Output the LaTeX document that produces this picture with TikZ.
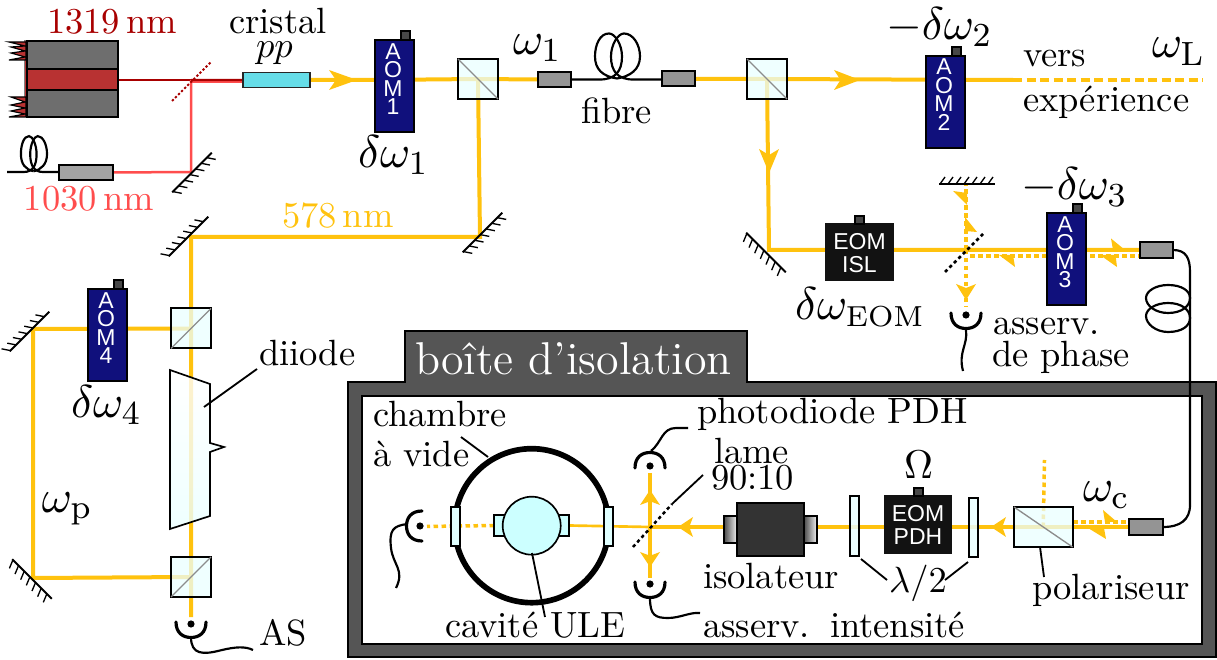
\documentclass[tikz,border=0pt]{standalone}
\usepackage{fontspec}
\usetikzlibrary{backgrounds}
\newfontfamily\sansf{Liberation Sans}
\def\ux{0.3pt}
\definecolor{beamc}{HTML}{FFC20E}
\definecolor{lightred}{HTML}{FF4D4D}
\definecolor{darkred}{HTML}{A80000}
\definecolor{navyaom}{HTML}{10107C}
\definecolor{cubec}{HTML}{EAFFFF}
\definecolor{boxgrey}{HTML}{555555}
\definecolor{stripec}{HTML}{B83232}
\definecolor{crystalc}{HTML}{66DDE8}
\definecolor{cavc}{HTML}{CCFFFF}
\definecolor{winc}{HTML}{E0FFFF}
\tikzset{
  sized/.style 2 args={rectangle,inner sep=0pt,outer sep=0pt,minimum width=#1*\ux,minimum height=#2*\ux},
  thinline/.style={line width=0.6pt,draw=black},
  beam/.style={draw=beamc,line width=1.2pt},
  thinbeam/.style={draw=beamc,line width=0.8pt},
  vbeam/.style={draw=beamc,line width=1.05pt},
  dotbeam/.style={draw=beamc,line width=1.05pt,dash pattern=on 1.35pt off 1.05pt},
  dashbeam/.style={draw=beamc,line width=1.05pt,dash pattern=on 2.7pt off 1.35pt},
  fiber/.style={draw=black,line width=0.65pt},
  leader/.style={draw=black,line width=0.55pt},
  splitter/.style={draw=black,line width=0.75pt,dash pattern=on 1pt off 0.9pt},
  txt/.style={inner sep=0pt,outer sep=0pt,anchor=base west,font=\fontsize{10.95}{13}\selectfont},
  bigmath/.style={txt,scale=1.26},
  modtxt/.style={inner sep=0pt,outer sep=0pt,text=white,align=center,font=\fontsize{6.9}{5.55}\selectfont\sansf},
  collim/.style={thinline,fill=black!42},
  connector/.style={thinline,fill=black!72},
  cube/.style={sized={#1}{#1},draw=black,line width=0.6pt,fill=cubec,fill opacity=0.75},
  plate/.style={draw=black,line width=0.4pt,fill=cubec,fill opacity=0.85},
  window/.style={draw=black,line width=0.4pt,fill=winc},
  modbox/.style={fill=black!93,draw=black!93},
}
\newcommand\mirrorat[6]{% name x y rot ticx ticy
  \coordinate (#1) at (#2,#3);
  \begin{scope}[shift={(#1)},rotate=#4]
    \draw[line width=0.55pt] (-28,0) -- (28,0);
    \foreach \t in {-27,-19,-11,-3,5,13,21}
      \draw[line width=0.4pt] (\t,0) -- ++(#5,#6);
  \end{scope}}
\newcommand\farrow[4]{\fill[beamc,shift={(#1,#2)},rotate=#3] (0,0)--(-#4,-10)--({-0.75*#4},0)--(-#4,10)--cycle;}
\newcommand\aom[4]{% name left top digit
  \node[sized={39}{92},thinline,fill=navyaom,anchor=north west] (#1) at (#2,#3) {};
  \node[sized={9}{9},connector,anchor=south west] (#1c) at ([xshift=26*\ux]#1.north west) {};
  \node[modtxt,anchor=north] (#1t) at ([xshift=-1.5*\ux,yshift=-3*\ux]#1.north) {A\\O\\M\\#4};}
\newcommand\detector[4]{% name x y rot
  \coordinate (#1) at (#2,#3);
  \begin{scope}[shift={(#1)},rotate=#4]
    \fill (0,0) circle[radius=3.6];
    \draw[line width=0.95pt,line cap=round] (-15,-2) .. controls (-15,9) and (-8,13.5) .. (0,13.5) .. controls (8,13.5) and (15,9) .. (15,-2);
  \end{scope}}
\newcommand\fibloop[4]{% fibre with two loops from #1, scaled, total length #4
  \begin{scope}[shift={(#1)},xscale=#2,yscale=#3]
    \draw[fiber] (0,0) -- (29,0) .. controls (44,0) and (51,-8) .. (51,-23) .. controls (51,-35) and (44,-46) .. (38,-46) .. controls (29,-46) and (24,-35) .. (24,-23) .. controls (24,-10) and (32,-3) .. (46,-1);
    \draw[fiber] (#4,0) -- (62,0) .. controls (47,0) and (40,-8) .. (40,-23) .. controls (40,-35) and (47,-46) .. (53,-46) .. controls (62,-46) and (69,-35) .. (69,-23) .. controls (69,-10) and (59,-3) .. (46,-1);
  \end{scope}}
\begin{document}
\begin{tikzpicture}[x=\ux,y=-\ux]
\useasboundingbox (0,0) rectangle (1217,660);

% ---------- anchor points of the optical path
\coordinate (laserout) at (118,80);
\coordinate (splitA) at (191,80);
\coordinate (splitB) at (191,81.5);
\coordinate (crystB) at (243,81.5);
\coordinate (endline) at (1013,80);
\coordinate (endbeam) at (1203,80);
\coordinate (fib0) at (7,172);
\mirrorat{m1}{192}{172.5}{45}{5}{7.5}
\mirrorat{m2}{482.5}{232.5}{45}{5}{7.5}
\mirrorat{m3}{188.5}{236.5}{45}{-5}{-7.5}
\mirrorat{m4}{29.5}{331.5}{45}{-5}{-7.5}
\mirrorat{m5}{32}{579}{-45}{3.5}{8.5}
\mirrorat{m6}{766}{252.5}{-45}{3.5}{8.5}
\mirrorat{m7}{967}{184}{0}{5}{-7}
\coordinate (c1) at (191,172);
\coordinate (c2) at (480,237);
\coordinate (c3) at (191,237);
\coordinate (c4) at (33,329);
\coordinate (c5) at (33,578);
\coordinate (c6) at (769,250);
\coordinate (bsP) at (966,250);
\coordinate (bsL) at (650,527);
\coordinate (c7) at (966,184);
\coordinate (detPend) at (966,307);
\coordinate (retA) at (970,256);
\coordinate (retB) at (1140,256);
\coordinate (detLend) at (427,526.5);
\coordinate (vtop) at (650,473);
\coordinate (vbot) at (650,578);
\coordinate (polup) at (1044.5,460);
\coordinate (polret) at (1073,522);
\coordinate (colret) at (1129,522);
\coordinate (asend) at (191,617);

% isolation box
\begin{pgfonlayer}{background}
  \draw[line width=0.6pt,fill=boxgrey] (348,382) -- (405,382) -- (405,331) -- (747,331) -- (747,382) -- (1216,382) -- (1216,656.5) -- (348,656.5) -- cycle;
  \node[sized={840}{248},fill=white,draw=black,line width=0.6pt,anchor=north west] (inner) at (362,396) {};
\end{pgfonlayer}

% laser 1319
\fill[stripec,draw=black!50,line width=0.3pt] (24.5,41) rectangle (27,117);
\draw[line width=0.35pt,fill=stripec] (26,42)--(9,42)--(25,46)--(11,47)--(25,51)--(11,53)--(25,57)--(9,60)--(26,60)--cycle;
\draw[line width=0.35pt,fill=stripec] (26,97)--(11,97)--(25,102)--(11,105)--(25,108)--(11,111)--(25,114)--(9,117)--(26,117)--cycle;
\node[sized={91}{76},thinline,fill=black!57,anchor=north west] (laser) at (27,41) {};
\node[sized={91}{21},thinline,fill=stripec,anchor=north west] (stripe) at (27,69) {};

% crystal and collimators
\node[sized={67}{15},draw=black!85,line width=0.45pt,fill=crystalc,anchor=north west] (crystal) at (243,72.5) {};
\node[sized={54}{15},collim,fill=black!36,anchor=north west] (coll0) at (59,165) {};
\node[sized={33}{15},collim,anchor=north west] (coll1) at (538,72) {};
\node[sized={33}{15},collim,anchor=north west] (coll2) at (662,71.5) {};
\node[sized={33}{16},collim,anchor=north west] (coll3) at (1140,242) {};
\node[sized={34}{16},collim,anchor=north west] (coll4) at (1129,519) {};

% modulators
\aom{aom1}{375}{40.5}{1}
\aom{aom2}{926}{56}{2}
\aom{aom3}{1047}{213.5}{3}
\aom{aom4}{88}{289.5}{4}
\node[sized={67}{56},modbox,anchor=north west] (eomI) at (826,224) {};
\node[sized={9}{8},connector,anchor=south] (eomIc) at (eomI.north) {};
\node[modtxt,font=\fontsize{6.9}{6.9}\selectfont\sansf] (eomIt) at (859.5,253) {EOM\\ISL};
\node[sized={66.5}{57},modbox,anchor=north west] (eomP) at (885,496) {};
\node[sized={9}{8},connector,anchor=south] (eomPc) at (eomP.north) {};
\node[modtxt,font=\fontsize{6.9}{6.9}\selectfont\sansf] (eomPt) at (918,525) {EOM\\PDH};

% isolator
\node[sized={13}{27},thinline,left color=black!70,right color=black!5,anchor=north west] (isoL) at (724,516) {};
\node[sized={13}{27},thinline,left color=black!70,right color=black!5,anchor=north west] (isoR) at (804,516) {};
\node[sized={67}{53},thinline,fill=black!80,anchor=north west] (iso) at (737,503) {};

% chamber and cavity
\coordinate (chamber) at (531.7,525.7);
\draw[line width=1.7pt] (chamber) circle[radius=77];
\node[sized={11}{21},draw=black,line width=0.45pt,fill=cavc,anchor=north west] (earL) at (494,515) {};
\node[sized={10}{21},draw=black,line width=0.45pt,fill=cavc,anchor=north west] (earR) at (559,515) {};
\fill[cavc,draw=black,line width=0.5pt] (chamber) circle[radius=29];
\node[sized={9}{39},window,anchor=north west] (winL) at (451,507) {};
\node[sized={9}{39},window,anchor=north west] (winR) at (604,507) {};

% beam splitter cubes
\node[cube=40,anchor=north west] (cube1) at (458,59) {};
\draw[black!45,line width=0.4pt] (cube1.north west) -- (cube1.south east);
\node[cube=40,anchor=north west] (cube2) at (747,59) {};
\draw[black!45,line width=0.4pt] (cube2.north west) -- (cube2.south east);
\node[cube=40,anchor=north west] (cube3) at (171,308.5) {};
\draw[black!45,line width=0.4pt] (cube3.south west) -- (cube3.north east);
\node[cube=40,anchor=north west] (cube4) at (171,557) {};
\draw[black!45,line width=0.4pt] (cube4.south west) -- (cube4.north east);
\node[sized={58.5}{40},draw=black,line width=0.6pt,fill=cubec,fill opacity=0.75,anchor=north west] (pol) at (1014,507) {};
\draw[black!45,line width=0.4pt] (pol.north west) -- (pol.south east);
\node[sized={9}{60},plate,anchor=north west] (lam1) at (850,496) {};
\node[sized={9}{59},plate,anchor=north west] (lam2) at (969,498) {};

% diode
\coordinate (diodeedge) at (204,407);
\draw[line width=0.5pt,top color=white,bottom color=cubec,fill opacity=0.8] (170,370) -- (210,384) -- (210,443) -- (224,447) -- (210,452) -- (210,516) -- (170,529) -- cycle;

% beams (below the components)
\begin{pgfonlayer}{background}
  \draw[line width=0.65pt,draw=darkred] (laser.east |- laserout) -- (splitA);
  \draw[line width=0.75pt,draw=lightred] (coll0.east) -- (c1) -- (splitA);
  \draw[line width=0.8pt,draw=lightred] (splitB) -- (crystB);
  \draw[line width=0.65pt,draw=darkred] (splitA) -- (crystal.west);
  \draw[beam] (crystal.east) -- (aom1.west |- crystal.east) -- (cube1.center) -- (coll1.west);
  \draw[beam] (cube1.center) -- (c2) -- (c3) -- (cube4.center) -- (asend);
  \draw[beam] (coll2.east) -- (cube2.center) -- (endline);
  \draw[dashbeam] (endline) -- (endbeam);
  \draw[beam] (cube2.center) -- (c6) -- (coll3.west);
  \draw[beam] (cube3.center) -- (c4) -- (c5) -- (cube4.center);
  \draw[dotbeam] (bsP) -- (c7);
  \draw[dotbeam] (bsP) -- (detPend);
  \draw[dotbeam] (retA) -- (retB);
  \draw[vbeam] (coll4.west) -- (bsL);
  \draw[thinbeam] (bsL) -- (earR.east);
  \draw[dotbeam] (earL.west) -- (detLend);
  \draw[vbeam] (vtop) -- (vbot);
  \draw[dotbeam] (pol.center) -- (polup);
  \draw[dotbeam] (polret) -- (colret);
\end{pgfonlayer}

% arrow heads
\farrow{357}{80}{0}{28}
\farrow{769}{173}{-90}{24}
\farrow{860}{80}{0}{26}
\farrow{991}{527}{180}{15}
\farrow{678}{527}{180}{15}
\farrow{650}{490}{90}{15}
\farrow{650}{567}{-90}{15}
\farrow{966}{300}{-90}{16}
\fill[beamc] (1125,250)--(1111,238.5)--(1113,250)--cycle;
\fill[beamc] (1100,255)--(1117,267)--(1115.5,255)--cycle;
\fill[beamc] (999,255)--(1015,267)--(1013,255)--cycle;
\fill[beamc] (967,205)--(953,191)--(967,193)--cycle;
\fill[beamc] (965,217)--(977,232)--(965,231)--cycle;
\fill[beamc] (1088,528)--(1106,539)--(1104,528)--cycle;
\fill[beamc] (1117,522)--(1103,510)--(1105,522)--cycle;

% splitters
\draw[draw=darkred,line width=0.55pt,dash pattern=on 0.7pt off 0.6pt] (172,101) -- (211,62);
\draw[splitter] (945,272) -- (983,234);
\draw[splitter] (633,547) -- (672,504);

% fibres
\fibloop{fib0}{0.58}{0.78}{91}
\fibloop{coll1.east}{1}{1}{91}
\draw[fiber] (coll3.east) .. controls (1186,250) and (1190,258) .. (1190,272) -- (1190,505) .. controls (1190,520) and (1180,527) .. (coll4.east);
\draw[fiber] (1190,298) .. controls (1190,306) and (1182,313) .. (1168,313) .. controls (1156,313) and (1146,306) .. (1146,298) .. controls (1146,291) and (1156,285) .. (1168,285) .. controls (1182,285) and (1190,291) .. (1190,298);
\draw[fiber] (1190,318) .. controls (1190,326) and (1182,332) .. (1168,332) .. controls (1156,332) and (1146,324) .. (1146,316) .. controls (1146,309) and (1156,303) .. (1168,303) .. controls (1182,303) and (1190,310) .. (1190,318);

% detectors
\detector{detAS}{191}{624}{0}
\detector{detPh}{966}{315}{0}
\detector{detT}{650}{466}{180}
\detector{detB}{650}{584}{0}
\detector{detL}{420}{526}{-90}
\draw[fiber] (191,637) .. controls (191,655) and (203,655) .. (222,650) .. controls (235,647) and (245,646) .. (253,650);
\draw[fiber] (966,330) .. controls (968,345) and (958,352) .. (963,371);
\draw[fiber] (651,451) .. controls (662,442) and (662,428) .. (676,428) -- (688,428);
\draw[fiber] (650,598) .. controls (650,615) and (655,618) .. (668,618) .. controls (680,618) and (690,612) .. (700,613);
\draw[fiber] (407,524) .. controls (393,526) and (389,530) .. (391,548) .. controls (393,565) and (405,570) .. (396,588);

% leader lines
\draw[leader] (diodeedge) -- (257,369);
\draw[leader] (461,437) -- (488,457);
\draw[leader] (532,553) -- (545,617);
\draw[leader] (672,504) -- (703,475);
\draw[leader] (861,559) -- (887,580);
\draw[leader] (968,562) -- (945,580);
\draw[leader] (1040,547) -- (1044,577);

% labels
\node[txt,text=darkred] (t1319) at (47,34) {1319\,nm};
\node[txt,text=lightred] (t1030) at (24,211) {1030\,nm};
\node[txt,text=beamc] (t578) at (282,228) {578\,nm};
\node[txt] (tcrist) at (229,34) {cristal};
\node[txt] (tpp) at (256,58) {$pp$};
\node[bigmath] (tdw1) at (358,168) {$\delta\omega_1$};
\node[bigmath] (tw1) at (513,55) {$\omega_1$};
\node[txt] (tfib) at (581,124) {fibre};
\node[bigmath] (tdw2) at (886,40) {$-\delta\omega_2$};
\node[txt] (tvers) at (1023,67) {vers};
\node[txt] (texp) at (1023,112) {expérience};
\node[bigmath] (twL) at (1152,58) {$\omega_{\mathrm{L}}$};
\node[bigmath] (tdw3) at (1021,200) {$-\delta\omega_3$};
\node[bigmath] (tdwE) at (795,320) {$\delta\omega_{\hbox{\fontsize{6.9}{8}\selectfont EOM}}$};
\node[txt] (tas1) at (993,335) {asserv.};
\node[txt] (tas2) at (992,367) {de phase};
\node[bigmath] (tdw4) at (71,418) {$\delta\omega_4$};
\node[bigmath] (twp) at (42,512) {$\omega_{\mathrm{p}}$};
\node[txt] (tdi) at (259,366) {diiode};
\node[txt] (tAS) at (259,646) {AS};
\node[txt,text=white,font=\fontsize{13.8}{16}\selectfont] (ttitle) at (415,375) {boîte d'isolation};
\node[txt] (tch) at (373,427) {chambre};
\node[txt] (tav) at (373,467) {à vide};
\node[txt] (tcav) at (445,638) {cavité ULE};
\node[txt] (tph) at (697,424) {photodiode PDH};
\node[txt] (tlame) at (714,464) {lame};
\node[txt] (t9010) at (711,490) {90:10};
\node[txt,scale=1.1] (tOm) at (904,478) {$\Omega$};
\node[bigmath] (twc) at (1083,502) {$\omega_{\mathrm{c}}$};
\node[txt] (tiso) at (703,588) {isolateur};
\node[txt] (tl2) at (889,593) {$\lambda/2$};
\node[txt] (tpol) at (1032,599) {polariseur};
\node[txt] (tai) at (703,638) {asserv.\hspace{0.55em}intensité};
\end{tikzpicture}
\end{document}
